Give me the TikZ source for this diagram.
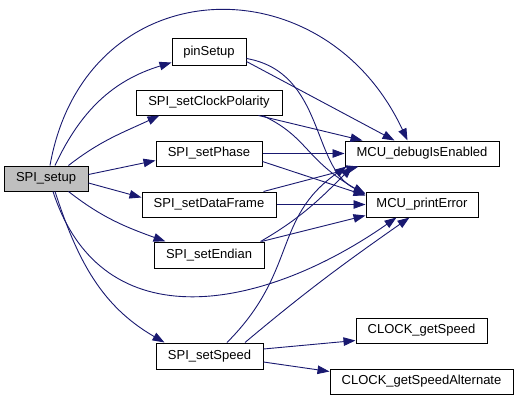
\documentclass[tikz,border=0pt]{standalone}
\usepackage{fontspec}
\setmainfont{Liberation Sans}
\usepackage{xcolor}
\usepackage{tikz}
\usetikzlibrary{arrows.meta}
\definecolor{callblue}{HTML}{191970}

\begin{document}
\begin{tikzpicture}[x=1pt, y=1pt,
    every node/.style={font=\fontsize{13}{15}\selectfont},
    fn/.style={draw=black, line width=1pt, minimum height=25pt, inner sep=0pt},
    call/.style={draw=callblue, line width=0.9pt, -{Triangle[length=12pt, width=8.5pt, fill=callblue]}}]
    \useasboundingbox (0,0) rectangle (519,400);

    \node[fn, fill=gray!50, minimum width=84pt] (setup) at (46,221.5) {SPI\_setup};

    \node[fn, minimum width=74pt, minimum height=26pt] (pinSetup) at (209,348) {pinSetup};
    \node[fn, minimum width=146pt] (clockPol) at (209,297.5) {SPI\_setClockPolarity};
    \node[fn, minimum width=106pt] (phase) at (209,246.5) {SPI\_setPhase};
    \node[fn, minimum width=134pt] (dataFrame) at (209,195.5) {SPI\_setDataFrame};
    \node[fn, minimum width=110pt, minimum height=26pt] (endian) at (209,145) {SPI\_setEndian};
    \node[fn, minimum width=107pt, minimum height=26pt] (speed) at (209.5,44) {SPI\_setSpeed};

    \node[fn, minimum width=154pt] (debug) at (422,246.5) {MCU\_debugIsEnabled};
    \node[fn, minimum width=112pt] (printErr) at (422,195.5) {MCU\_printError};
    \node[fn, minimum width=131pt] (clockSpeed) at (421.5,69.5) {CLOCK\_getSpeed};
    \node[fn, minimum width=183pt] (clockAlt) at (421.5,18.5) {CLOCK\_getSpeedAlternate};

    % calls made by SPI_setup
    \draw[call] ([xshift=9pt]setup.north) to[out=65,in=197] ([yshift=3pt]pinSetup.south west);
    \draw[call] ([xshift=-20pt]setup.north east) to[out=38,in=205] ([xshift=24pt]clockPol.south west);
    \draw[call] ([yshift=4pt]setup.east) -- ([yshift=-7pt]phase.west);
    \draw[call] ([yshift=-4.5pt]setup.east) -- ([yshift=7pt]dataFrame.west);
    \draw[call] ([xshift=-20pt]setup.south east) to[out=-38,in=160] ([xshift=12pt]endian.north west);
    \draw[call] ([xshift=9pt]setup.south) to[out=-72,in=150] ([xshift=9pt]speed.north west);
    \draw[call] ([xshift=4pt]setup.north) .. controls +(80:200) and +(115:200) .. ([xshift=63pt]debug.north west);
    \draw[call] ([xshift=7pt]setup.south) .. controls +(-72:160) and +(215:160) .. ([xshift=31pt]printErr.south west);

    % calls to the MCU helpers
    \draw[call] ([yshift=4pt]pinSetup.south east) -- ([xshift=50pt]debug.north west);
    \draw[call] ([yshift=7pt]pinSetup.south east) .. controls +(-10:80) and +(155:60) .. ([yshift=-2pt]printErr.north west);
    \draw[call] ([xshift=-24pt]clockPol.south east) -- ([xshift=18pt]debug.north west);
    \draw[call] ([xshift=-20pt]clockPol.south east) .. controls +(-25:50) and +(150:70) .. ([yshift=-3pt]printErr.north west);
    \draw[call] (phase.east) -- (debug.west);
    \draw[call] ([yshift=-8pt]phase.east) -- ([yshift=-4pt]printErr.north west);
    \draw[call] ([xshift=-13pt]dataFrame.north east) -- ([xshift=14pt]debug.south west);
    \draw[call] (dataFrame.east) -- (printErr.west);
    \draw[call] ([xshift=-4pt]endian.north east) to[out=30,in=225] ([xshift=8pt]debug.south west);
    \draw[call] ([xshift=-3pt]endian.north east) -- ([yshift=2pt]printErr.south west);
    \draw[call] ([xshift=17.5pt]speed.north) .. controls +(45:100) and +(215:90) .. ([xshift=2pt]debug.south west);
    \draw[call] ([xshift=35.5pt]speed.north) to[out=40,in=215] ([xshift=44pt]printErr.south west);

    % clock queries
    \draw[call] ([yshift=7pt]speed.east) -- ([yshift=3pt]clockSpeed.south west);
    \draw[call] ([yshift=-6pt]speed.east) -- ([yshift=-3pt]clockAlt.north west);
\end{tikzpicture}
\end{document}
